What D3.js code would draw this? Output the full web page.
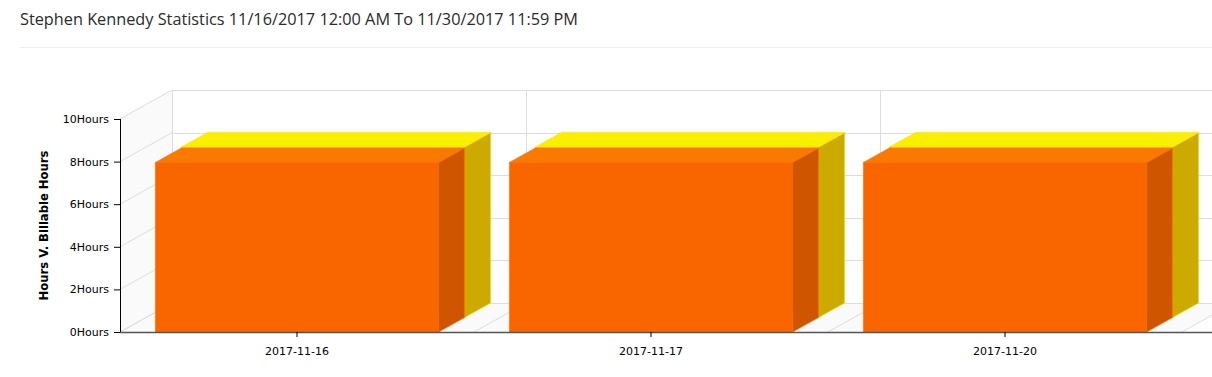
<!DOCTYPE html>
<html>
<head>
<meta charset="utf-8">
<script src="https://cdn.jsdelivr.net/npm/d3@7"></script>
<style>
  html, body { margin: 0; padding: 0; background: #fff; }
  svg { display: block; }
</style>
</head>
<body>
<div id="chart"></div>
<script>
// data
const title = 'Stephen Kennedy Statistics 11/16/2017 12:00 AM To 11/30/2017 11:59 PM';
const categories = ['2017-11-16', '2017-11-17', '2017-11-20'];
const billableHours = [7.96, 7.96, 7.96]; // front (orange) series
const hours = [8, 8, 8];                  // back (yellow) series
const yTicks = [0, 2, 4, 6, 8, 10];
const yTitle = 'Hours V. Billable Hours';

const width = 1212;
const height = 377;
const plot = { left: 120, right: 1182, top: 119, bottom: 332 };
const depth = { dx: 52, dy: -29 };

const svg = d3.select('#chart')
  .append('svg')
  .attr('width', width)
  .attr('height', height);

// header
svg.append('text')
  .attr('x', 20)
  .attr('y', 24.5)
  .attr('fill', '#2b2b2b')
  .attr('textLength', 558)
  .attr('lengthAdjust', 'spacingAndGlyphs')
  .style('font-family', '"Open Sans", sans-serif')
  .style('font-size', '16.5px')
  .text(title);
svg.append('line')
  .attr('x1', 20).attr('x2', width)
  .attr('y1', 47.5).attr('y2', 47.5)
  .attr('stroke', '#eee');

const x = d3.scaleBand()
  .domain(categories)
  .range([plot.left, plot.right])
  .paddingInner(0.2)
  .paddingOuter(0.1);
const xCat = d3.scaleBand()
  .domain(categories)
  .range([plot.left, plot.right]);
const y = d3.scaleLinear()
  .domain([0, 10])
  .range([plot.bottom, plot.top]);

const pt = (px, py, z) => [px + z * depth.dx, py + z * depth.dy];
const poly = (pts) => 'M' + pts.map((p) => p.join(',')).join('L') + 'Z';

// walls
const walls = svg.append('g');
walls.append('path')
  .attr('d', poly([pt(plot.left, y(10), 0), pt(plot.left, y(10), 1),
    pt(plot.left, y(0), 1), pt(plot.left, y(0), 0)]))
  .attr('fill', '#fafafa');
walls.append('path')
  .attr('d', poly([pt(plot.left, y(0), 0), pt(plot.left, y(0), 1),
    pt(plot.right, y(0), 1), pt(plot.right, y(0), 0)]))
  .attr('fill', '#fafafa');

const grid = svg.append('g')
  .attr('stroke', '#ddd')
  .attr('fill', 'none');
grid.selectAll('.back')
  .data(yTicks)
  .join('line')
  .attr('class', 'back')
  .attr('x1', plot.left + depth.dx)
  .attr('x2', plot.right + depth.dx)
  .attr('y1', (d) => Math.round(y(d) + depth.dy) + 0.5)
  .attr('y2', (d) => Math.round(y(d) + depth.dy) + 0.5);
grid.selectAll('.side')
  .data(yTicks)
  .join('line')
  .attr('class', 'side')
  .attr('x1', plot.left)
  .attr('x2', plot.left + depth.dx)
  .attr('y1', (d) => y(d))
  .attr('y2', (d) => y(d) + depth.dy);
const bounds = categories.map((c) => xCat(c)).concat([plot.right]);
grid.selectAll('.vert')
  .data(bounds)
  .join('line')
  .attr('class', 'vert')
  .attr('x1', (d) => Math.round(d + depth.dx) + 0.5)
  .attr('x2', (d) => Math.round(d + depth.dx) + 0.5)
  .attr('y1', y(10) + depth.dy)
  .attr('y2', y(0) + depth.dy);
grid.selectAll('.floor')
  .data(bounds)
  .join('line')
  .attr('class', 'floor')
  .attr('x1', (d) => d)
  .attr('x2', (d) => d + depth.dx)
  .attr('y1', y(0))
  .attr('y2', y(0) + depth.dy);

// 3d boxes
function drawBoxes(values, z0, z1, colors) {
  const g = svg.append('g')
    .attr('stroke', colors.stroke)
    .attr('stroke-width', 0.6)
    .attr('stroke-linejoin', 'round');
  const boxes = g.selectAll('g')
    .data(values.map((v, i) => ({ cat: categories[i], v })))
    .join('g');
  boxes.append('path')
    .attr('fill', colors.front)
    .attr('d', (d) => {
      const x0 = x(d.cat), x1 = x0 + x.bandwidth();
      return poly([pt(x0, y(d.v), z0), pt(x1, y(d.v), z0),
        pt(x1, y(0), z0), pt(x0, y(0), z0)]);
    });
  boxes.append('path')
    .attr('fill', colors.side)
    .attr('d', (d) => {
      const x1 = x(d.cat) + x.bandwidth();
      return poly([pt(x1, y(d.v), z0), pt(x1, y(d.v), z1),
        pt(x1, y(0), z1), pt(x1, y(0), z0)]);
    });
  boxes.append('path')
    .attr('fill', colors.top)
    .attr('d', (d) => {
      const x0 = x(d.cat), x1 = x0 + x.bandwidth();
      return poly([pt(x0, y(d.v), z0), pt(x0, y(d.v), z1),
        pt(x1, y(d.v), z1), pt(x1, y(d.v), z0)]);
    });
}

drawBoxes(hours, 0.5, 1, {
  front: '#f5d800', side: '#ccaa00', top: '#f9f000', stroke: '#ffdd00',
});
drawBoxes(billableHours, 0, 0.5, {
  front: '#f96600', side: '#cf5500', top: '#fa7a00', stroke: '#fa6a00',
});

// axes
const axisFont = (g) => g.selectAll('text')
  .attr('fill', '#000')
  .style('font-family', '"DejaVu Sans", Verdana, sans-serif')
  .style('font-size', '11px');

svg.append('g')
  .attr('transform', `translate(${plot.left},0)`)
  .call(d3.axisLeft(y)
    .tickValues(yTicks)
    .tickSize(6)
    .tickPadding(5)
    .tickFormat((d) => d + 'Hours'))
  .call((g) => g.select('.domain').attr('d', `M0.5,${plot.top}V${plot.bottom}`).attr('stroke', '#000'))
  .call((g) => g.selectAll('.tick line').attr('stroke', '#000'))
  .call(axisFont);

svg.append('g')
  .attr('transform', `translate(0,${plot.bottom})`)
  .call(d3.axisBottom(xCat)
    .tickSize(5)
    .tickPadding(10))
  .call((g) => g.select('.domain')
    .attr('d', `M${plot.left},0.5H${width}`)
    .attr('stroke', '#555')
    .attr('stroke-width', 1.5))
  .call((g) => g.selectAll('.tick line').attr('stroke', '#000'))
  .call(axisFont);

svg.append('text')
  .attr('transform', `translate(48,${(plot.top + plot.bottom) / 2}) rotate(-90)`)
  .attr('text-anchor', 'middle')
  .attr('fill', '#000')
  .style('font-family', '"DejaVu Sans", Verdana, sans-serif')
  .style('font-size', '11.6px')
  .style('font-weight', 'bold')
  .text(yTitle);
</script>
</body>
</html>
